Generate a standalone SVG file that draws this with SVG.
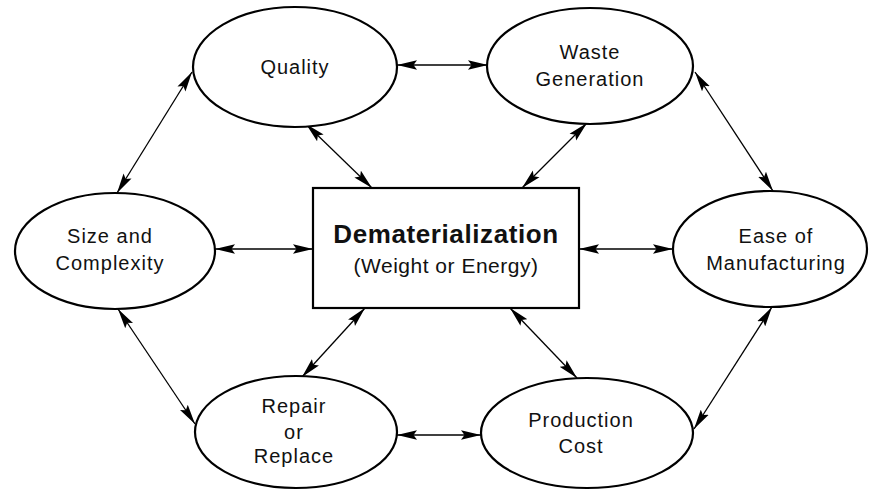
<svg xmlns="http://www.w3.org/2000/svg" width="869" height="490" viewBox="0 0 869 490">
  <style>
    .node { fill: #fff; stroke: #000; stroke-width: 2.2; }
    .lbl { font-family: "Liberation Sans", Arial, Helvetica, sans-serif; font-size: 20px; letter-spacing: 1px; text-anchor: middle; fill: #111; }
    .title { font-family: "Liberation Sans", Arial, Helvetica, sans-serif; font-size: 26px; font-weight: bold; letter-spacing: 0.6px; text-anchor: middle; fill: #111; }
    .sub { font-family: "Liberation Sans", Arial, Helvetica, sans-serif; font-size: 21px; letter-spacing: 0.5px; text-anchor: middle; fill: #111; }
    .link { stroke: #000; stroke-width: 1.3; fill: none; marker-start: url(#head); marker-end: url(#head); }
  </style>
  <defs>
    <!-- long, narrow filled arrowhead with a slightly notched base -->
    <marker id="head" viewBox="0 0 20 10" refX="20" refY="5" markerWidth="20" markerHeight="10" markerUnits="userSpaceOnUse" orient="auto-start-reverse">
      <path d="M0,0.3 L20,5 L0,9.7 L3.5,5 Z" fill="#000"/>
    </marker>
  </defs>

  <rect width="869" height="490" fill="#fff"/>

  <!-- connectors: every link is two-way -->
  <g id="connectors">
    <line class="link" x1="397" y1="65" x2="488" y2="65"/>
    <line class="link" x1="192" y1="72" x2="117" y2="193"/>
    <line class="link" x1="695" y1="72" x2="773" y2="191"/>
    <line class="link" x1="306" y1="124" x2="372" y2="188"/>
    <line class="link" x1="587" y1="123" x2="522" y2="188"/>
    <line class="link" x1="215" y1="249" x2="313" y2="249"/>
    <line class="link" x1="579" y1="249" x2="673" y2="249"/>
    <line class="link" x1="365" y1="308" x2="302" y2="377"/>
    <line class="link" x1="510" y1="308" x2="577" y2="378"/>
    <line class="link" x1="118" y1="309" x2="195" y2="424"/>
    <line class="link" x1="772" y1="307" x2="694" y2="429"/>
    <line class="link" x1="397" y1="435" x2="481" y2="435"/>
  </g>

  <g id="quality">
    <ellipse class="node" cx="295" cy="67" rx="102" ry="60"/>
    <text class="lbl" x="295" y="74">Quality</text>
  </g>

  <g id="waste-generation">
    <ellipse class="node" cx="590" cy="66" rx="103" ry="58"/>
    <text class="lbl" x="590" y="59">Waste</text>
    <text class="lbl" x="590" y="86">Generation</text>
  </g>

  <g id="size-complexity">
    <ellipse class="node" cx="115" cy="251" rx="100" ry="58"/>
    <text class="lbl" x="110" y="243">Size and</text>
    <text class="lbl" x="110" y="270">Complexity</text>
  </g>

  <g id="dematerialization">
    <rect class="node" x="313" y="188" width="266" height="120"/>
    <text class="title" x="446" y="243">Dematerialization</text>
    <text class="sub" x="446" y="273">(Weight or Energy)</text>
  </g>

  <g id="ease-of-manufacturing">
    <ellipse class="node" cx="770" cy="249" rx="97" ry="58"/>
    <text class="lbl" x="776" y="243">Ease of</text>
    <text class="lbl" x="776" y="270">Manufacturing</text>
  </g>

  <g id="repair-replace">
    <ellipse class="node" cx="296" cy="432" rx="101" ry="56"/>
    <text class="lbl" x="294" y="413">Repair</text>
    <text class="lbl" x="294" y="439">or</text>
    <text class="lbl" x="294" y="463">Replace</text>
  </g>

  <g id="production-cost">
    <ellipse class="node" cx="587" cy="433" rx="106" ry="55"/>
    <text class="lbl" x="581" y="427">Production</text>
    <text class="lbl" x="581" y="453">Cost</text>
  </g>
</svg>
